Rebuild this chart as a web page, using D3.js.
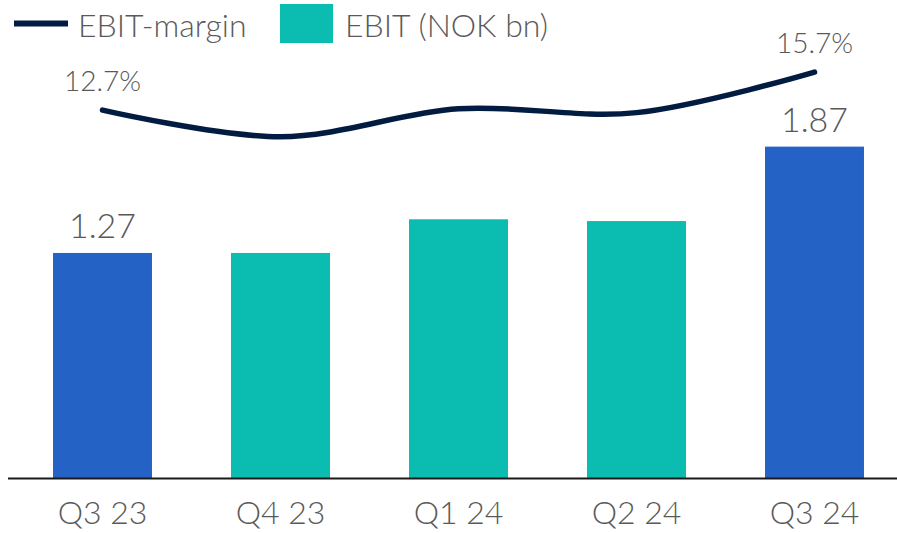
<!DOCTYPE html>
<html>
<head>
<meta charset="utf-8">
<script src="https://cdn.jsdelivr.net/npm/d3@7"></script>
<style>
    body { margin: 0; background: #fff; }
    text { font-family: Lato, "Open Sans", sans-serif; font-weight: 300; fill: #595959; }
</style>
</head>
<body>
<div id="chart"></div>
<script>
// chart values
var quarters = ["Q3 23", "Q4 23", "Q1 24", "Q2 24", "Q3 24"];
var ebit = [1.27, 1.27, 1.46, 1.45, 1.87];
var ebitMargin = [12.7, 10.6, 12.8, 12.5, 15.7];
var ebitLabels = ["1.27", "", "", "", "1.87"];
var marginLabels = ["12.7%", "", "", "", "15.7%"];
var highlighted = ["Q3 23", "Q3 24"];

var svgWidth = 897;
var svgHeight = 533;
var baseY = 478;

var svg = d3.select("#chart")
    .append("svg")
    .attr("width", svgWidth)
    .attr("height", svgHeight);

// scales
var xBandScale = d3.scaleBand()
    .domain(quarters)
    .range([13.5, 903.5])
    .paddingInner(0.444)
    .paddingOuter(0.222);

var yLinearScale = d3.scaleLinear()
    .domain([0, 2.5])
    .range([baseY, 35]);

// secondary scale for the margin line
var yMarginScale = d3.scaleLinear()
    .domain([0, 20])
    .range([271, 17.6]);

var cx = function (q) { return xBandScale(q) + xBandScale.bandwidth() / 2; };

// bars
svg.append("g")
    .selectAll("rect")
    .data(quarters)
    .enter()
    .append("rect")
    .attr("x", d => xBandScale(d))
    .attr("y", (d, i) => yLinearScale(ebit[i]))
    .attr("width", xBandScale.bandwidth())
    .attr("height", (d, i) => baseY - yLinearScale(ebit[i]))
    .attr("fill", d => highlighted.includes(d) ? "#2463C5" : "#0BBCB0");

// bar value labels
svg.append("g")
    .selectAll("text")
    .data(quarters)
    .enter()
    .append("text")
    .attr("x", d => cx(d))
    .attr("y", (d, i) => yLinearScale(ebit[i]) - 15)
    .attr("text-anchor", "middle")
    .attr("font-size", "34px")
    .text((d, i) => ebitLabels[i]);

// baseline / x axis
var xAxis = d3.axisBottom(xBandScale).tickSize(0).tickPadding(23);
var axisG = svg.append("g")
    .attr("transform", `translate(0, ${baseY})`)
    .call(xAxis);
axisG.select(".domain").remove();
axisG.selectAll("text")
    .attr("font-size", "32px")
    .style("font-family", "Lato, 'Open Sans', sans-serif")
    .attr("fill", "#595959");
svg.append("line")
    .attr("x1", 8)
    .attr("x2", svgWidth)
    .attr("y1", baseY + 0.5)
    .attr("y2", baseY + 0.5)
    .attr("stroke", "#1a1a1a")
    .attr("stroke-width", 2);

// margin line
var line = d3.line()
    .x((d, i) => cx(quarters[i]))
    .y(d => yMarginScale(d))
    .curve(d3.curveCatmullRom.alpha(0.5));

svg.append("path")
    .datum(ebitMargin)
    .attr("d", line)
    .attr("fill", "none")
    .attr("stroke", "#021B41")
    .attr("stroke-width", 5.5)
    .attr("stroke-linecap", "round");

// margin labels
svg.append("g")
    .selectAll("text")
    .data(quarters)
    .enter()
    .append("text")
    .attr("x", d => cx(d))
    .attr("y", (d, i) => yMarginScale(ebitMargin[i]) - 19)
    .attr("text-anchor", "middle")
    .attr("font-size", "28px")
    .text((d, i) => marginLabels[i]);

// legend
var legend = svg.append("g");
legend.append("line")
    .attr("x1", 14).attr("x2", 68)
    .attr("y1", 23.5).attr("y2", 23.5)
    .attr("stroke", "#021B41")
    .attr("stroke-width", 6);
legend.append("text")
    .attr("x", 78).attr("y", 37)
    .attr("font-size", "32px")
    .text("EBIT-margin");
legend.append("rect")
    .attr("x", 280).attr("y", 4)
    .attr("width", 53).attr("height", 39)
    .attr("fill", "#0BBCB0");
legend.append("text")
    .attr("x", 345).attr("y", 37)
    .attr("font-size", "32px")
    .text("EBIT (NOK bn)");
</script>
</body>
</html>
